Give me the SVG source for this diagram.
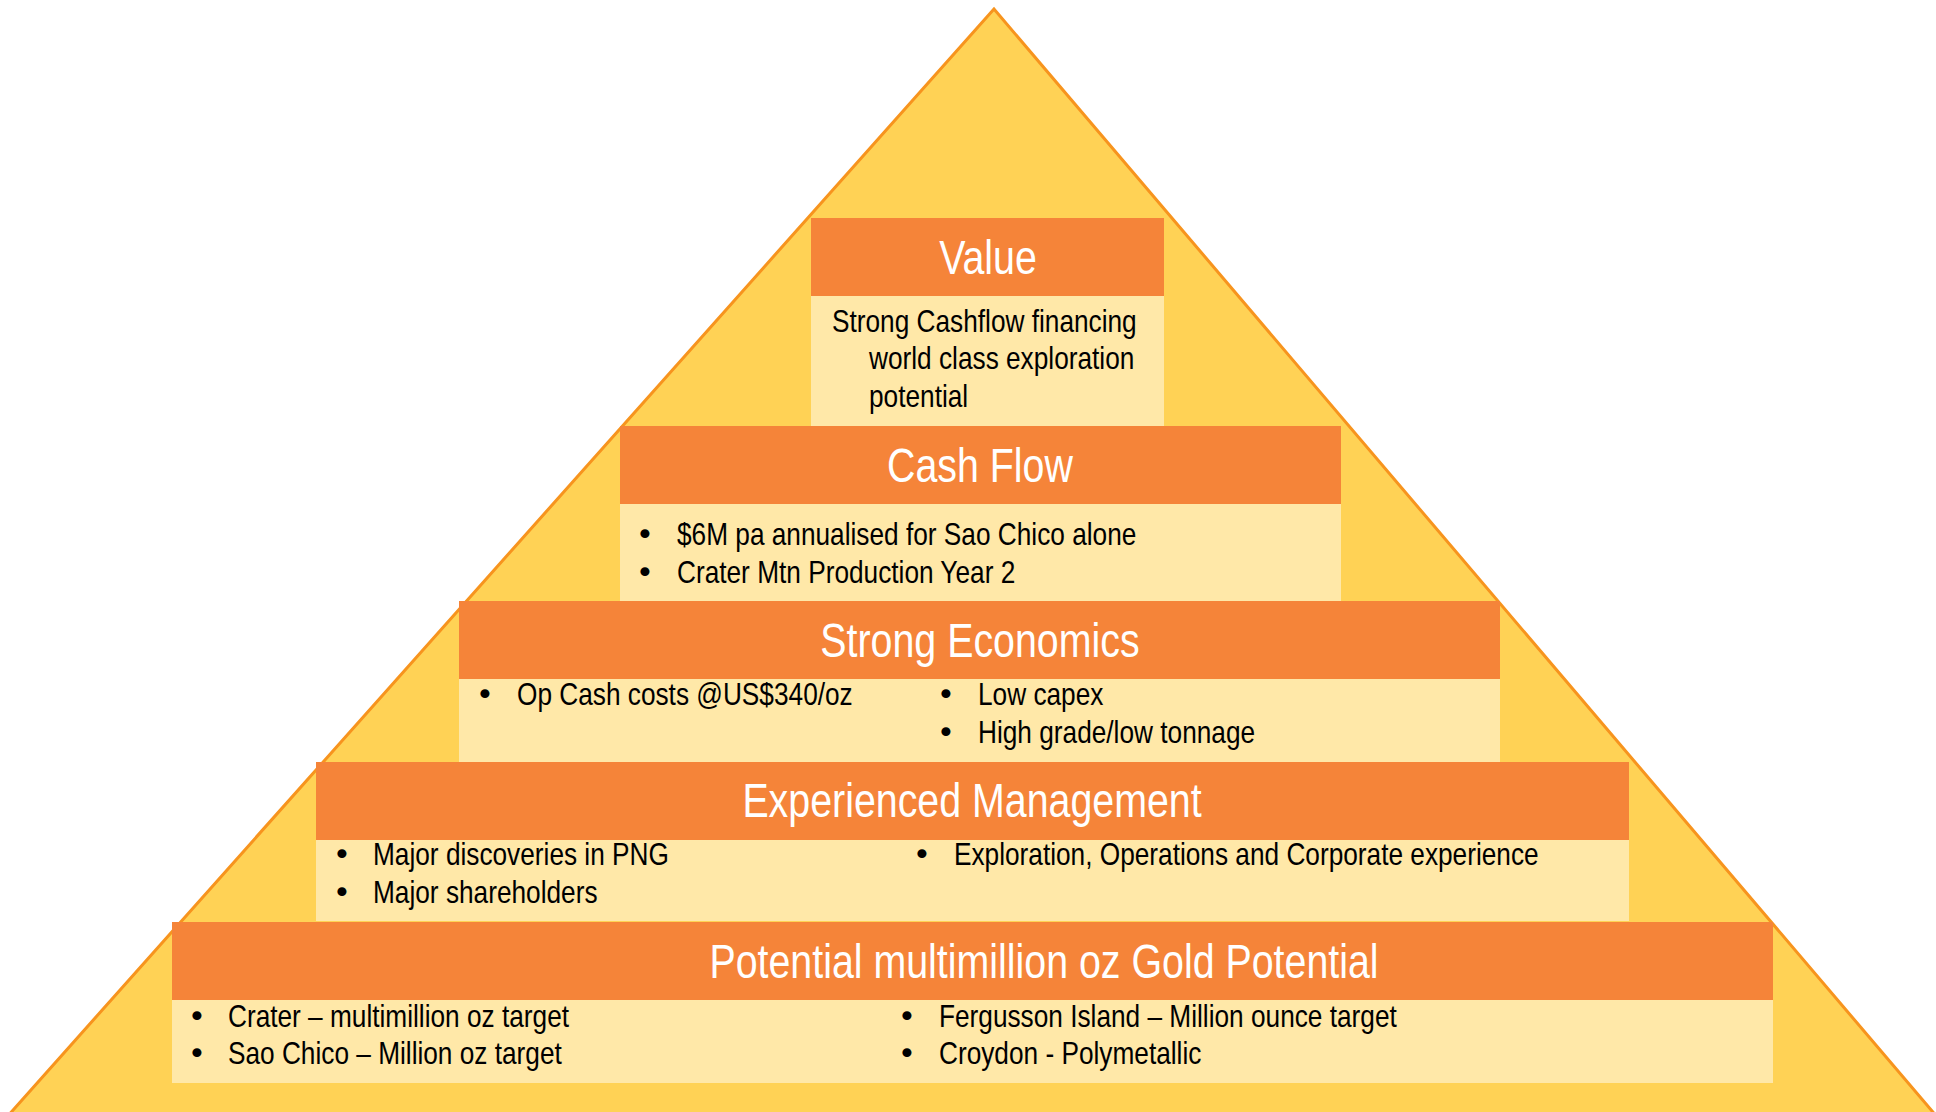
<svg xmlns="http://www.w3.org/2000/svg" width="1936" height="1112" viewBox="0 0 1936 1112">
<style>
.tri{fill:#FFD255;stroke:#F7941E;stroke-width:3;stroke-linejoin:miter}
.hd{fill:#F58439}
.bd{fill:#FFE8A8}
.ht{font-family:"Liberation Sans",Arial,sans-serif;font-size:48px;fill:#FFFFFF;text-anchor:middle}
.bt{font-family:"Liberation Sans",Arial,sans-serif;font-size:32px;fill:#000000}
.bu{font-family:"DejaVu Sans",sans-serif;font-size:31px;fill:#000000;text-anchor:middle}
</style>
<rect width="1936" height="1112" fill="#FFFFFF"/>
<polygon class="tri" points="994,9 6,1118 1938,1118"/>
<g id="connectors"/>
<g id="value">
<rect class="hd" x="811" y="218" width="353" height="78"/>
<rect class="bd" x="811" y="296" width="353" height="130"/>
<g transform="scale(0.82 1)">
<text class="ht" x="1204.9" y="274">Value</text>
<text class="bt" x="1014.6" y="332">Strong Cashflow financing</text>
<text class="bt" x="1059.8" y="369">world class exploration</text>
<text class="bt" x="1059.8" y="407">potential</text>
</g>
</g>
<g id="cash-flow">
<rect class="hd" x="620" y="426" width="721" height="78"/>
<rect class="bd" x="620" y="504" width="721" height="97"/>
<text class="bu" x="645" y="545">•</text>
<text class="bu" x="645" y="583">•</text>
<g transform="scale(0.82 1)">
<text class="ht" x="1195.1" y="482">Cash Flow</text>
<text class="bt" x="825.6" y="545">$6M pa annualised for Sao Chico alone</text>
<text class="bt" x="825.6" y="583">Crater Mtn Production Year 2</text>
</g>
</g>
<g id="strong-economics">
<rect class="hd" x="459" y="601" width="1041" height="78"/>
<rect class="bd" x="459" y="679" width="1041" height="83"/>
<text class="bu" x="485" y="705">•</text>
<text class="bu" x="946" y="705">•</text>
<text class="bu" x="946" y="743">•</text>
<g transform="scale(0.82 1)">
<text class="ht" x="1195.1" y="657">Strong Economics</text>
<text class="bt" x="630.5" y="705">Op Cash costs @US$340/oz</text>
<text class="bt" x="1192.7" y="705">Low capex</text>
<text class="bt" x="1192.7" y="743">High grade/low tonnage</text>
</g>
</g>
<g id="experienced-management">
<rect class="hd" x="316" y="762" width="1313" height="78"/>
<rect class="bd" x="316" y="840" width="1313" height="81"/>
<text class="bu" x="342" y="865">•</text>
<text class="bu" x="342" y="903">•</text>
<text class="bu" x="922" y="865">•</text>
<g transform="scale(0.82 1)">
<text class="ht" x="1185.4" y="817">Experienced Management</text>
<text class="bt" x="454.9" y="865">Major discoveries in PNG</text>
<text class="bt" x="454.9" y="903">Major shareholders</text>
<text class="bt" x="1163.4" y="865">Exploration, Operations and Corporate experience</text>
</g>
</g>
<g id="gold-potential">
<rect class="hd" x="172" y="922" width="1601" height="78"/>
<rect class="bd" x="172" y="1000" width="1601" height="83"/>
<text class="bu" x="197" y="1027">•</text>
<text class="bu" x="197" y="1064">•</text>
<text class="bu" x="907" y="1027">•</text>
<text class="bu" x="907" y="1064">•</text>
<g transform="scale(0.82 1)">
<text class="ht" x="1273.2" y="978">Potential multimillion oz Gold Potential</text>
<text class="bt" x="278" y="1027">Crater – multimillion oz target</text>
<text class="bt" x="278" y="1064">Sao Chico – Million oz target</text>
<text class="bt" x="1145.1" y="1027">Fergusson Island – Million ounce target</text>
<text class="bt" x="1145.1" y="1064">Croydon - Polymetallic</text>
</g>
</g>
</svg>
